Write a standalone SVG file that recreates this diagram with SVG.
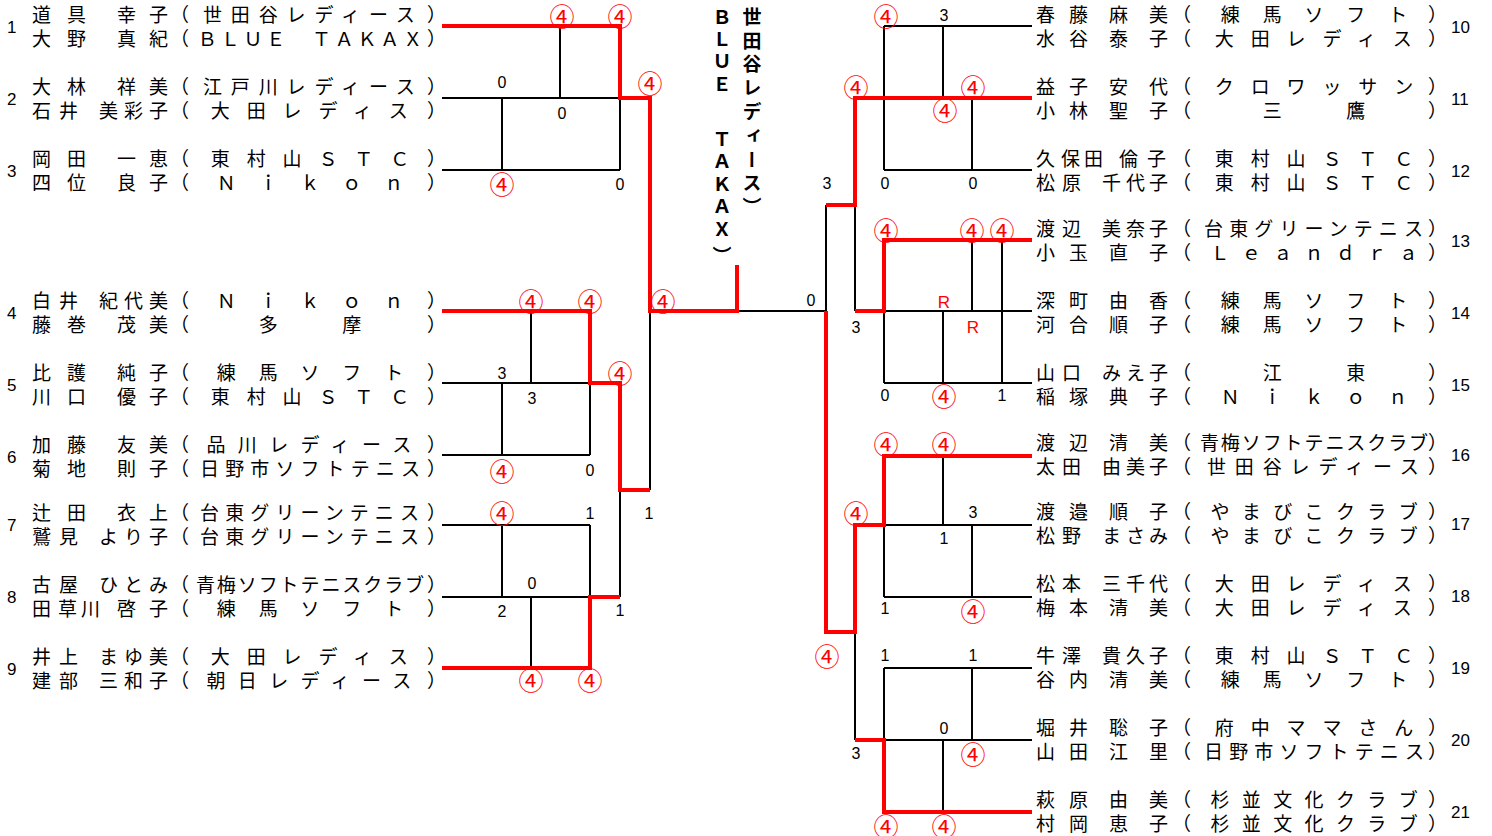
<svg xmlns="http://www.w3.org/2000/svg" width="1492" height="836" viewBox="0 0 1492 836">
<style>
.n{font-family:"Noto Sans CJK JP","Noto Sans CJK SC",sans-serif;font-size:19px;fill:#000}
.num{font-family:"Liberation Sans",Arial,sans-serif;font-size:17px;fill:#000}
.s{font-family:"Liberation Sans",Arial,sans-serif;font-size:16px;fill:#000;text-anchor:middle}
.w{font-family:"Noto Sans CJK JP","Noto Sans CJK SC",sans-serif;font-size:25px;fill:#f00;text-anchor:middle}
.rr{font-family:"Liberation Sans",Arial,sans-serif;font-size:17px;fill:#f00;text-anchor:middle}
.v{font-family:"Noto Sans CJK JP","Noto Sans CJK SC",sans-serif;font-size:19px;font-weight:bold;fill:#000;writing-mode:vertical-rl}
.bk{fill:none;stroke:#000;stroke-width:2}
.rd{fill:none;stroke:#f00;stroke-width:4;stroke-linejoin:miter}
</style>
<rect width="1492" height="836" fill="#fff"/>

<g id="connectors">
<path class="bk" d="M442,98H620M442,170H620M560,26V98M502,98V170M620,98V170"/>
<path class="bk" d="M442,383H590M442,455H590M531,311V383M502,383V455M590,383V455M650,311V490"/>
<path class="bk" d="M442,525H590M442,597H590M502,525V597M531,597V668M590,525V597M620,490V597"/>
<path class="bk" d="M737,311H826M826,205V311"/>
<path class="bk" d="M884,26H1032M884,170H1032M884,26V170M943,26V98M972,98V170M855,205V311"/>
<path class="bk" d="M884,311H1032M884,383H1032M884,311V383M943,311V383M972,240V311M1002,240V383"/>
<path class="bk" d="M884,525H1032M884,597H1032M884,525V597M943,456V525M972,525V597M855,632V740"/>
<path class="bk" d="M884,668H1032M884,740H1032M884,668V740M972,668V740M943,740V812"/>
<path class="rd" d="M442,26H620V98H650V311H737V265"/>
<path class="rd" d="M442,311H590V383H620V490H650"/>
<path class="rd" d="M442,668H590V597H620"/>
<path class="rd" d="M1032,98H855V205H826"/>
<path class="rd" d="M1032,240H884V311H855"/>
<path class="rd" d="M826,311V632H855V525H884V456H1032"/>
<path class="rd" d="M855,740H884V812H1032"/>
</g>

<g id="scores">
<text class="s" x="502" y="88">0</text>
<text class="s" x="562" y="119">0</text>
<text class="s" x="620" y="190">0</text>
<text class="s" x="502" y="379">3</text>
<text class="s" x="532" y="404">3</text>
<text class="s" x="590" y="476">0</text>
<text class="s" x="590" y="519">1</text>
<text class="s" x="649" y="519">1</text>
<text class="s" x="532" y="589">0</text>
<text class="s" x="502" y="617">2</text>
<text class="s" x="620" y="616">1</text>
<text class="s" x="811" y="306">0</text>
<text class="s" x="944" y="21">3</text>
<text class="s" x="827" y="189">3</text>
<text class="s" x="885" y="189">0</text>
<text class="s" x="973" y="189">0</text>
<text class="s" x="856" y="333">3</text>
<text class="s" x="885" y="401">0</text>
<text class="s" x="1002" y="401">1</text>
<text class="s" x="973" y="518">3</text>
<text class="s" x="944" y="544">1</text>
<text class="s" x="885" y="614">1</text>
<text class="s" x="885" y="661">1</text>
<text class="s" x="973" y="661">1</text>
<text class="s" x="944" y="734">0</text>
<text class="s" x="856" y="759">3</text>
<text class="w" x="562" y="26">④</text>
<text class="w" x="620" y="26">④</text>
<text class="w" x="650" y="93">④</text>
<text class="w" x="502" y="194">④</text>
<text class="w" x="531" y="311">④</text>
<text class="w" x="590" y="311">④</text>
<text class="w" x="663" y="311">④</text>
<text class="w" x="620" y="383">④</text>
<text class="w" x="502" y="481">④</text>
<text class="w" x="502" y="523">④</text>
<text class="w" x="531" y="690">④</text>
<text class="w" x="590" y="690">④</text>
<text class="w" x="886" y="26">④</text>
<text class="w" x="856" y="97">④</text>
<text class="w" x="973" y="97">④</text>
<text class="w" x="945" y="120">④</text>
<text class="w" x="886" y="240">④</text>
<text class="w" x="972" y="240">④</text>
<text class="w" x="1002" y="240">④</text>
<text class="w" x="944" y="406">④</text>
<text class="w" x="886" y="454">④</text>
<text class="w" x="944" y="454">④</text>
<text class="w" x="856" y="523">④</text>
<text class="w" x="973" y="621">④</text>
<text class="w" x="827" y="666">④</text>
<text class="w" x="973" y="764">④</text>
<text class="w" x="886" y="836">④</text>
<text class="w" x="944" y="836">④</text>
<text class="rr" x="944" y="308">R</text>
<text class="rr" x="973" y="333">R</text>
</g>

<g id="final-label">
<text class="v" x="722" y="7" letter-spacing="3.5">ＢＬＵＥ</text>
<text class="v" x="722" y="129" letter-spacing="3.5">ＴＡＫＡＸ</text>
<text class="v" x="722" y="246">）</text>
<text class="v" x="752" y="7" letter-spacing="4.8">世田谷レディース）</text>
</g>

<g id="team-1">
<text class="num" x="7" y="33">1</text>
<text class="n" y="22"><tspan x="32 67 117 149">道具幸子</tspan><tspan x="170">（</tspan><tspan x="202.89" letter-spacing="8.889">世田谷レディース</tspan><tspan x="427">）</tspan></text>
<text class="n" y="46"><tspan x="32 67 117 149">大野真紀</tspan><tspan x="170">（</tspan><tspan x="197.82" letter-spacing="3.818">ＢＬＵＥ　ＴＡＫＡＸ</tspan><tspan x="427">）</tspan></text>
</g>
<g id="team-2">
<text class="num" x="7" y="105">2</text>
<text class="n" y="94"><tspan x="32 67 117 149">大林祥美</tspan><tspan x="170">（</tspan><tspan x="202.89" letter-spacing="8.889">江戸川レディース</tspan><tspan x="427">）</tspan></text>
<text class="n" y="118"><tspan x="32 59 99 124 149">石井美彩子</tspan><tspan x="170">（</tspan><tspan x="210.86" letter-spacing="16.857">大田レディス</tspan><tspan x="427">）</tspan></text>
</g>
<g id="team-3">
<text class="num" x="7" y="177">3</text>
<text class="n" y="166"><tspan x="32 67 117 149">岡田一恵</tspan><tspan x="170">（</tspan><tspan x="210.86" letter-spacing="16.857">東村山ＳＴＣ</tspan><tspan x="427">）</tspan></text>
<text class="n" y="190"><tspan x="32 67 117 149">四位良子</tspan><tspan x="170">（</tspan><tspan x="216.83" letter-spacing="22.833">Ｎｉｋｏｎ</tspan><tspan x="427">）</tspan></text>
</g>
<g id="team-4">
<text class="num" x="7" y="319">4</text>
<text class="n" y="308"><tspan x="32 59 99 124 149">白井紀代美</tspan><tspan x="170">（</tspan><tspan x="216.83" letter-spacing="22.833">Ｎｉｋｏｎ</tspan><tspan x="427">）</tspan></text>
<text class="n" y="332"><tspan x="32 67 117 149">藤巻茂美</tspan><tspan x="170">（</tspan><tspan x="258.67" letter-spacing="64.667">多摩</tspan><tspan x="427">）</tspan></text>
</g>
<g id="team-5">
<text class="num" x="7" y="391">5</text>
<text class="n" y="380"><tspan x="32 67 117 149">比護純子</tspan><tspan x="170">（</tspan><tspan x="216.83" letter-spacing="22.833">練馬ソフト</tspan><tspan x="427">）</tspan></text>
<text class="n" y="404"><tspan x="32 67 117 149">川口優子</tspan><tspan x="170">（</tspan><tspan x="210.86" letter-spacing="16.857">東村山ＳＴＣ</tspan><tspan x="427">）</tspan></text>
</g>
<g id="team-6">
<text class="num" x="7" y="463">6</text>
<text class="n" y="452"><tspan x="32 67 117 149">加藤友美</tspan><tspan x="170">（</tspan><tspan x="206.38" letter-spacing="12.375">品川レディース</tspan><tspan x="427">）</tspan></text>
<text class="n" y="476"><tspan x="32 67 117 149">菊地則子</tspan><tspan x="170">（</tspan><tspan x="200.1" letter-spacing="6.1">日野市ソフトテニス</tspan><tspan x="427">）</tspan></text>
</g>
<g id="team-7">
<text class="num" x="7" y="531">7</text>
<text class="n" y="520"><tspan x="32 67 117 149">辻田衣上</tspan><tspan x="170">（</tspan><tspan x="200.1" letter-spacing="6.1">台東グリーンテニス</tspan><tspan x="427">）</tspan></text>
<text class="n" y="544"><tspan x="32 59 99 124 149">鷲見より子</tspan><tspan x="170">（</tspan><tspan x="200.1" letter-spacing="6.1">台東グリーンテニス</tspan><tspan x="427">）</tspan></text>
</g>
<g id="team-8">
<text class="num" x="7" y="603">8</text>
<text class="n" y="592"><tspan x="32 59 99 124 149">古屋ひとみ</tspan><tspan x="170">（</tspan><tspan x="195.92" letter-spacing="1.917">青梅ソフトテニスクラブ</tspan><tspan x="427">）</tspan></text>
<text class="n" y="616"><tspan x="32 58 81 117 149">田草川啓子</tspan><tspan x="170">（</tspan><tspan x="216.83" letter-spacing="22.833">練馬ソフト</tspan><tspan x="427">）</tspan></text>
</g>
<g id="team-9">
<text class="num" x="7" y="675">9</text>
<text class="n" y="664"><tspan x="32 59 99 124 149">井上まゆ美</tspan><tspan x="170">（</tspan><tspan x="210.86" letter-spacing="16.857">大田レディス</tspan><tspan x="427">）</tspan></text>
<text class="n" y="688"><tspan x="32 59 99 124 149">建部三和子</tspan><tspan x="170">（</tspan><tspan x="206.38" letter-spacing="12.375">朝日レディース</tspan><tspan x="427">）</tspan></text>
</g>

<g id="team-10">
<text class="num" x="1451" y="33">10</text>
<text class="n" y="22"><tspan x="1036 1069 1109 1149">春藤麻美</tspan><tspan x="1172">（</tspan><tspan x="1220.83" letter-spacing="22.833">練馬ソフト</tspan><tspan x="1428">）</tspan></text>
<text class="n" y="46"><tspan x="1036 1069 1109 1149">水谷泰子</tspan><tspan x="1172">（</tspan><tspan x="1214.86" letter-spacing="16.857">大田レディス</tspan><tspan x="1428">）</tspan></text>
</g>
<g id="team-11">
<text class="num" x="1451" y="105">11</text>
<text class="n" y="94"><tspan x="1036 1069 1109 1149">益子安代</tspan><tspan x="1172">（</tspan><tspan x="1214.86" letter-spacing="16.857">クロワッサン</tspan><tspan x="1428">）</tspan></text>
<text class="n" y="118"><tspan x="1036 1069 1109 1149">小林聖子</tspan><tspan x="1172">（</tspan><tspan x="1262.67" letter-spacing="64.667">三鷹</tspan><tspan x="1428">）</tspan></text>
</g>
<g id="team-12">
<text class="num" x="1451" y="177">12</text>
<text class="n" y="166"><tspan x="1036 1061 1084 1119 1147">久保田倫子</tspan><tspan x="1172">（</tspan><tspan x="1214.86" letter-spacing="16.857">東村山ＳＴＣ</tspan><tspan x="1428">）</tspan></text>
<text class="n" y="190"><tspan x="1036 1062 1102 1126 1149">松原千代子</tspan><tspan x="1172">（</tspan><tspan x="1214.86" letter-spacing="16.857">東村山ＳＴＣ</tspan><tspan x="1428">）</tspan></text>
</g>
<g id="team-13">
<text class="num" x="1451" y="247">13</text>
<text class="n" y="236"><tspan x="1036 1062 1102 1126 1149">渡辺美奈子</tspan><tspan x="1172">（</tspan><tspan x="1204.1" letter-spacing="6.1">台東グリーンテニス</tspan><tspan x="1428">）</tspan></text>
<text class="n" y="260"><tspan x="1036 1069 1109 1149">小玉直子</tspan><tspan x="1172">（</tspan><tspan x="1210.38" letter-spacing="12.375">Ｌｅａｎｄｒａ</tspan><tspan x="1428">）</tspan></text>
</g>
<g id="team-14">
<text class="num" x="1451" y="319">14</text>
<text class="n" y="308"><tspan x="1036 1069 1109 1149">深町由香</tspan><tspan x="1172">（</tspan><tspan x="1220.83" letter-spacing="22.833">練馬ソフト</tspan><tspan x="1428">）</tspan></text>
<text class="n" y="332"><tspan x="1036 1069 1109 1149">河合順子</tspan><tspan x="1172">（</tspan><tspan x="1220.83" letter-spacing="22.833">練馬ソフト</tspan><tspan x="1428">）</tspan></text>
</g>
<g id="team-15">
<text class="num" x="1451" y="391">15</text>
<text class="n" y="380"><tspan x="1036 1062 1102 1126 1149">山口みえ子</tspan><tspan x="1172">（</tspan><tspan x="1262.67" letter-spacing="64.667">江東</tspan><tspan x="1428">）</tspan></text>
<text class="n" y="404"><tspan x="1036 1069 1109 1149">稲塚典子</tspan><tspan x="1172">（</tspan><tspan x="1220.83" letter-spacing="22.833">Ｎｉｋｏｎ</tspan><tspan x="1428">）</tspan></text>
</g>
<g id="team-16">
<text class="num" x="1451" y="461">16</text>
<text class="n" y="450"><tspan x="1036 1069 1109 1149">渡辺清美</tspan><tspan x="1172">（</tspan><tspan x="1199.92" letter-spacing="1.917">青梅ソフトテニスクラブ</tspan><tspan x="1428">）</tspan></text>
<text class="n" y="474"><tspan x="1036 1062 1102 1126 1149">太田由美子</tspan><tspan x="1172">（</tspan><tspan x="1206.89" letter-spacing="8.889">世田谷レディース</tspan><tspan x="1428">）</tspan></text>
</g>
<g id="team-17">
<text class="num" x="1451" y="530">17</text>
<text class="n" y="519"><tspan x="1036 1069 1109 1149">渡邉順子</tspan><tspan x="1172">（</tspan><tspan x="1210.38" letter-spacing="12.375">やまびこクラブ</tspan><tspan x="1428">）</tspan></text>
<text class="n" y="543"><tspan x="1036 1062 1102 1126 1149">松野まさみ</tspan><tspan x="1172">（</tspan><tspan x="1210.38" letter-spacing="12.375">やまびこクラブ</tspan><tspan x="1428">）</tspan></text>
</g>
<g id="team-18">
<text class="num" x="1451" y="602">18</text>
<text class="n" y="591"><tspan x="1036 1062 1102 1126 1149">松本三千代</tspan><tspan x="1172">（</tspan><tspan x="1214.86" letter-spacing="16.857">大田レディス</tspan><tspan x="1428">）</tspan></text>
<text class="n" y="615"><tspan x="1036 1069 1109 1149">梅本清美</tspan><tspan x="1172">（</tspan><tspan x="1214.86" letter-spacing="16.857">大田レディス</tspan><tspan x="1428">）</tspan></text>
</g>
<g id="team-19">
<text class="num" x="1451" y="674">19</text>
<text class="n" y="663"><tspan x="1036 1062 1102 1126 1149">牛澤貴久子</tspan><tspan x="1172">（</tspan><tspan x="1214.86" letter-spacing="16.857">東村山ＳＴＣ</tspan><tspan x="1428">）</tspan></text>
<text class="n" y="687"><tspan x="1036 1069 1109 1149">谷内清美</tspan><tspan x="1172">（</tspan><tspan x="1220.83" letter-spacing="22.833">練馬ソフト</tspan><tspan x="1428">）</tspan></text>
</g>
<g id="team-20">
<text class="num" x="1451" y="746">20</text>
<text class="n" y="735"><tspan x="1036 1069 1109 1149">堀井聡子</tspan><tspan x="1172">（</tspan><tspan x="1214.86" letter-spacing="16.857">府中ママさん</tspan><tspan x="1428">）</tspan></text>
<text class="n" y="759"><tspan x="1036 1069 1109 1149">山田江里</tspan><tspan x="1172">（</tspan><tspan x="1204.1" letter-spacing="6.1">日野市ソフトテニス</tspan><tspan x="1428">）</tspan></text>
</g>
<g id="team-21">
<text class="num" x="1451" y="818">21</text>
<text class="n" y="807"><tspan x="1036 1069 1109 1149">萩原由美</tspan><tspan x="1172">（</tspan><tspan x="1210.38" letter-spacing="12.375">杉並文化クラブ</tspan><tspan x="1428">）</tspan></text>
<text class="n" y="831"><tspan x="1036 1069 1109 1149">村岡恵子</tspan><tspan x="1172">（</tspan><tspan x="1210.38" letter-spacing="12.375">杉並文化クラブ</tspan><tspan x="1428">）</tspan></text>
</g>
</svg>
